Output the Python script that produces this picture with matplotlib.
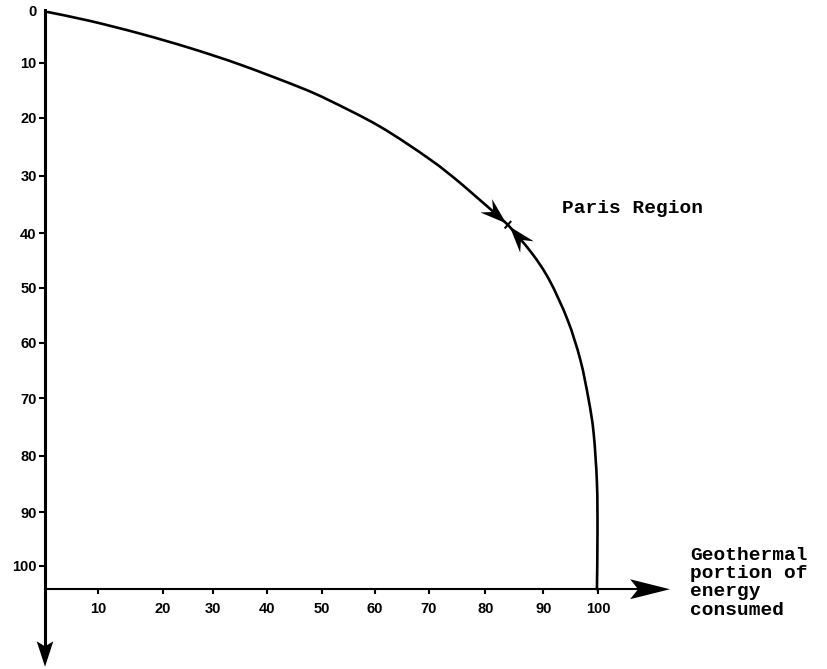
import numpy as np
import matplotlib
matplotlib.use("Agg")
import matplotlib.pyplot as plt
from matplotlib.patches import Polygon, PathPatch
from matplotlib.path import Path

# Curve: approach from the origin (top-left)
curve_top_x = [0.5, 8.1, 17.2, 26.2, 35.3, 46.1, 51.5, 60.6, 69.6, 75.6, 83.7]
curve_top_y = [0.0, 1.6, 3.9, 6.5, 9.5, 13.6, 16.0, 20.7, 26.6, 31.3, 38.4]

# Curve coming up from x=100 on the horizontal axis
curve_right_x = [99.8, 99.9, 99.8, 99.2, 98.3, 96.8, 94.5, 91.2, 88.0, 83.7]
curve_right_y = [104.2, 94.0, 85.0, 76.0, 70.0, 62.8, 55.6, 48.4, 43.5, 38.4]

# Tick positions as drawn (hand-drawn axes, not perfectly even)
xtick_pos = [9.6, 21.3, 30.4, 40.1, 50.1, 59.7, 69.4, 79.6, 90.1, 100.0]
xtick_labels = ['10', '20', '30', '40', '50', '60', '70', '80', '90', '100']
ytick_pos = [9.2, 19.1, 29.6, 39.9, 49.8, 59.7, 69.7, 80.1, 90.3, 100.0]
ytick_labels = ['10', '20', '30', '40', '50', '60', '70', '80', '90', '100']

x_axis_level = 104.2
region_label = 'Paris Region'
axis_title_lines = ['Geothermal', 'portion of', 'energy', 'consumed']

fig = plt.figure(figsize=(8.27, 6.69), dpi=100)
ax = fig.add_axes([0, 0, 1, 1])
ax.set_xlim(-8.14, 141.4)
ax.set_ylim(118.6, -2.17)

# axes drawn with spines placed in data coordinates
for side in ['top', 'right']:
    ax.spines[side].set_visible(False)
ax.spines['left'].set_position(('data', 0))
ax.spines['left'].set_bounds(-0.4, 115)
ax.spines['left'].set_linewidth(2.2)
ax.spines['bottom'].set_position(('data', x_axis_level))
ax.spines['bottom'].set_bounds(0, 108)
ax.spines['bottom'].set_linewidth(1.5)

tick_font = dict(family='Liberation Sans', weight='bold', size=10.5)
ax.set_xticks(xtick_pos)
ax.set_xticklabels(xtick_labels, **tick_font)
ax.set_yticks(ytick_pos)
ax.set_yticklabels(ytick_labels, **tick_font)
ax.tick_params(axis='x', direction='out', length=3.5, width=1.5, pad=5.5)
ax.tick_params(axis='y', direction='out', length=4.5, width=1.5, pad=1.5)
ax.text(-1.45, 0, '0', ha='right', va='center', **tick_font)


def arrowhead(tip, direction, length, half_width, notch=0.75):
    d = np.asarray(direction, float)
    d = d / np.hypot(*d)
    n = np.array([-d[1], d[0]])
    t = np.asarray(tip, float)
    pts = [t, t - length * d + half_width * n, t - notch * length * d,
           t - length * d - half_width * n]
    ax.add_patch(Polygon(pts, closed=True, color='black', lw=0, zorder=5))


def smooth_line(xs, ys, lw):
    # draw the read points joined by a smooth Catmull-Rom style bezier
    p = np.column_stack([xs, ys]).astype(float)
    verts = [p[0]]
    codes = [Path.MOVETO]
    for i in range(len(p) - 1):
        p0 = p[i - 1] if i > 0 else p[i]
        p3 = p[i + 2] if i + 2 < len(p) else p[i + 1]
        c1 = p[i] + (p[i + 1] - p0) / 6
        c2 = p[i + 1] - (p3 - p[i]) / 6
        verts += [c1, c2, p[i + 1]]
        codes += [Path.CURVE4] * 3
    ax.add_patch(PathPatch(Path(verts, codes), fill=False, lw=lw, color='black',
                           capstyle='round'))


# axis arrows
arrowhead((113.0, x_axis_level), (1, 0), 7.2, 1.8, notch=0.8)
arrowhead((0, 118.2), (0, 1), 4.6, 1.5, notch=0.8)

# curves
smooth_line(curve_top_x, curve_top_y, 1.9)
smooth_line(curve_right_x, curve_right_y, 1.9)

d1 = (curve_top_x[-1] - curve_top_x[-2], curve_top_y[-1] - curve_top_y[-2])
d2 = (curve_right_x[-1] - curve_right_x[-2], curve_right_y[-1] - curve_right_y[-2])
meet = (curve_top_x[-1], curve_top_y[-1])
arrowhead((meet[0] - 0.3, meet[1] - 0.25), d1, 4.8, 1.6, notch=0.65)
arrowhead((meet[0] + 0.35, meet[1] + 0.35), d2, 4.8, 1.6, notch=0.65)

# small cross mark at the meeting point
u = np.array(d1) / np.hypot(*d1)
perp = np.array([-u[1], u[0]]) * 0.7
ax.plot([meet[0] - perp[0], meet[0] + perp[0]], [meet[1] - perp[1], meet[1] + perp[1]],
        color='black', lw=1.5)

mono = dict(family='Liberation Mono', size=14, weight='bold')
ax.text(93.5, 35.4, region_label, ha='left', va='center', **mono)
for i, line in enumerate(axis_title_lines):
    ax.text(116.6, 98.9 + 3.3 * i, line, ha='left', va='baseline', **mono)

fig.savefig('out.png', dpi=100)
